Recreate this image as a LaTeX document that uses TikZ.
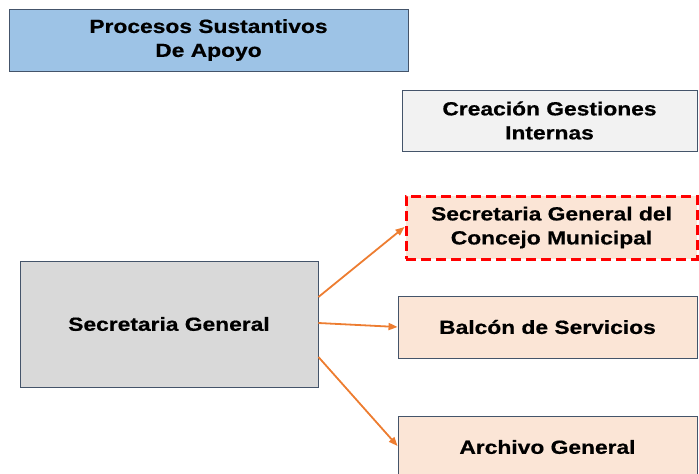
\documentclass[tikz,border=0pt]{standalone}
\usepackage{fontspec}
\setmainfont{Liberation Sans}
\newfontfamily\boxfont[FakeStretch=1.2,FakeBold=0.6]{Liberation Sans Bold}
\usetikzlibrary{arrows.meta}
\definecolor{bluefill}{HTML}{9DC3E6}
\definecolor{greyfill}{HTML}{F2F2F2}
\definecolor{darkgrey}{HTML}{D9D9D9}
\definecolor{peach}{HTML}{FBE5D6}
\definecolor{edge}{HTML}{44546A}
\definecolor{arrow}{HTML}{ED7D31}
\definecolor{dashred}{HTML}{FF0000}
\tikzset{
  box/.style={draw=edge, line width=0.9pt, inner sep=0pt, align=center,
    font=\boxfont\fontsize{19}{24}\selectfont, text=black},
  link/.style={draw=arrow, line width=1.8pt, -{Triangle[length=9pt,width=7pt]}}
}
\begin{document}
\begin{tikzpicture}[x=1pt,y=-1pt]
\useasboundingbox (0,0) rectangle (699,474);
\clip (0,0) rectangle (699,474);
\node[box, fill=bluefill, minimum width=399pt, minimum height=62pt] (top) at (208.5,40) {Procesos Sustantivos\\De Apoyo};
\node[box, fill=greyfill, minimum width=295pt, minimum height=61pt] (crea) at (549.5,120.5) {Creación Gestiones\\Internas};
\node[box, fill=peach, draw=dashred, line width=3pt, dash pattern=on 10pt off 5pt, minimum width=291pt, minimum height=63pt] (conc) at (551.5,227.5) {Secretaria General del\\Concejo Municipal};
\node[box, fill=darkgrey, minimum width=298pt, minimum height=126pt] (sg) at (169,324) {Secretaria General};
\node[box, fill=peach, minimum width=299pt, minimum height=62pt] (bal) at (547.5,327) {Balcón de Servicios};
\node[box, fill=peach, minimum width=299pt, minimum height=62pt] (arc) at (547.5,447) {Archivo General};
\draw[link] (sg.east |- 0,297) -- (conc.west |- 0,227);
\draw[link] (sg.east |- 0,323) -- (bal.west |- 0,327);
\draw[link] (sg.east |- 0,357) -- (arc.west |- 0,446);
\end{tikzpicture}
\end{document}
